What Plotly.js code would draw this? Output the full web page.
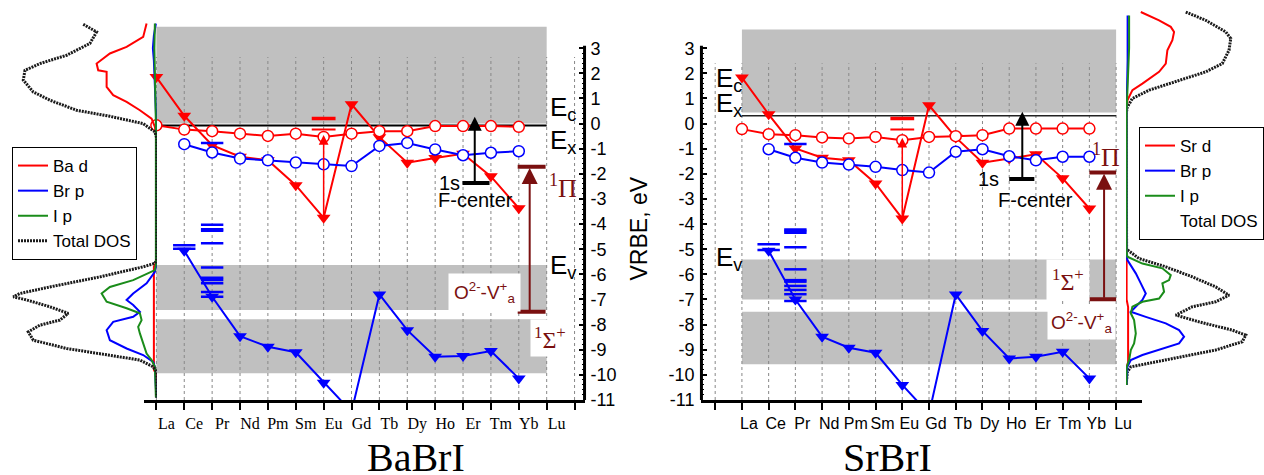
<!DOCTYPE html>
<html><head><meta charset="utf-8">
<script src="https://cdn.plot.ly/plotly-3.0.1.min.js"></script>
<style>html,body{margin:0;padding:0;background:#fff}#chart{width:1264px;height:475px}</style>
</head><body><div id="chart"></div>
<script>
// ---------------- DATA ----------------
const LN = ['La','Ce','Pr','Nd','Pm','Sm','Eu','Gd','Tb','Dy','Ho','Er','Tm','Yb','Lu'];
const yTicks = [-11,-10,-9,-8,-7,-6,-5,-4,-3,-2,-1,0,1,2,3];

// BaBrI (left) — La..Yb
const babriRedTri  = [1.85, 0.31, -0.86, -1.32, -1.46, -2.45, -3.75, 0.77, -0.54, -1.56, -1.37, -1.2, -2.1, -3.37];
const babriRedCirc = [-0.07, -0.24, -0.3, -0.4, -0.49, -0.4, -0.53, -0.4, -0.3, -0.3, -0.1, -0.1, -0.1, -0.13];
// Ce..Yb
const babriBlueCirc = [-0.82, -1.15, -1.39, -1.46, -1.55, -1.62, -1.69, -0.89, -0.77, -1.03, -1.26, -1.16, -1.1];
const babriBlueTri  = [-5.06, -6.89, -8.46, -8.88, -9.1, -10.31, -11.47, -6.8, -8.22, -9.28, -9.25, -9.05, -10.14];
const babriCeDash = [-4.84, -4.98];
const babriPrDash = [-0.77, -4.03, -4.2, -4.26, -4.76, -5.73, -6.13, -6.22, -6.35, -6.7, -6.89];
const babriEuDash = [0.2, -0.24];
const babriBands = [[0, 3.85], [-7.42, -5.63], [-9.94, -7.79]];
const babriEcLine = -0.08;
const babriF1s = -2.36, babriFtop = 0.27;
const babriPi = -1.72, babriSigma = -7.49;

// SrBrI (right) — La..Yb
const srbriRedTri  = [1.83, 0.37, -0.99, -1.36, -1.46, -2.38, -3.78, 0.73, -0.55, -1.56, -1.39, -1.22, -2.18, -3.38];
const srbriRedCirc = [-0.22, -0.42, -0.46, -0.55, -0.59, -0.53, -0.66, -0.53, -0.5, -0.46, -0.2, -0.2, -0.2, -0.2];
// Ce..Yb
const srbriBlueCirc = [-1.02, -1.36, -1.55, -1.63, -1.72, -1.85, -1.95, -1.12, -1.02, -1.3, -1.46, -1.32, -1.32];
const srbriBlueTri  = [-5.06, -7.0, -8.48, -8.92, -9.12, -10.4, -11.55, -6.8, -8.25, -9.35, -9.28, -9.08, -10.14];
const srbriCeDash = [-4.8, -5.03];
const srbriPrDash = [-0.81, -4.21, -4.27, -4.34, -4.92, -5.8, -6.23, -6.29, -6.46, -6.62, -6.79, -7.06];
const srbriEuDash = [0.2, -0.24];
const srbriBands = [[0.44, 3.74], [-7.0, -5.41], [-9.58, -7.49]];
const srbriExLine = 0.31;
const srbriF1s = -2.21, srbriFtop = 0.47;
const srbriPi = -1.95, srbriSigma = -6.99;

// DOS BaBrI (energy, eV ; DOS, arb.)
const babriTotE = [3.95, 3.65, 3.19, 2.72, 2.39, 2.12, 1.73, 1.26, 0.93, 0.53, 0.29, 0.0, -0.33, -0.6, -5.4, -5.56, -5.7, -6.1, -6.5, -6.76, -6.89, -7.02, -7.29, -7.55, -7.82, -8.02, -8.29, -8.62, -8.95, -9.21, -9.41, -9.68, -9.9, -10.9];
const babriTot  = [73.7, 60.3, 67, 90.3, 117, 132, 133.7, 123.7, 107, 80.3, 47, 13.7, 2, 0, 0, 2, 13.7, 57, 107, 137, 143.7, 130.3, 107, 88.7, 97, 117, 128.7, 123.7, 90.3, 50.3, 17, 3.7, 0, 0];
const babriBaE = [3.98, 3.45, 3.05, 2.79, 2.39, 2.12, 2.06, 1.46, 1.13, 0.86, 0.53, 0.2, -0.13, -0.5, -5.5, -5.7, -9.8, -10.0, -10.9];
const babriBa  = [10.3, 13.7, 30.3, 47, 60.3, 58.7, 50.3, 50.3, 43.7, 30.3, 17, 5.3, 2, 0.5, 0.5, 3, 3, 0.5, 0.5];
const babriBrE = [3.98, 3.5, 3.0, 2.5, 1.5, 0.5, 0.0, -5.6, -5.9, -6.36, -6.76, -7.02, -7.22, -7.49, -7.69, -7.89, -8.22, -8.62, -8.95, -9.21, -9.48, -9.68, -10.9];
const babriBr  = [1, 3, 4, 3, 2, 1, 0.5, 0.5, 2, 10.3, 23.7, 30.3, 23.7, 17, 23.7, 43.7, 50.3, 47, 30.3, 13.7, 3.7, 2, 0.5];
const babriIE = [3.98, 3.0, 2.0, 1.0, 0.0, -5.6, -5.83, -6.23, -6.5, -6.76, -7.09, -7.35, -7.55, -7.82, -8.09, -8.35, -8.75, -9.15, -9.41, -9.68, -10.9];
const babriI  = [2, 2.5, 2, 1.5, 1, 1, 2, 23.7, 47, 55.3, 50.3, 30.3, 17, 15.3, 18.7, 17, 13.7, 10.3, 5.3, 2, 1];

// DOS SrBrI
const srbriTotE = [4.44, 4.11, 3.65, 3.39, 2.92, 2.39, 2.06, 1.73, 1.33, 1.0, 0.66, 0.4, -4.8, -5.0, -5.37, -5.7, -6.1, -6.5, -6.83, -7.09, -7.29, -7.62, -7.89, -8.22, -8.42, -8.68, -9.01, -9.28, -9.54, -9.68, -9.88, -10.4];
const srbriTot  = [59.7, 79.7, 99.7, 104.7, 103, 96.3, 79.7, 53, 23, 6.3, 1.3, 0, 0, 0.5, 13, 39.7, 66.3, 89.7, 103, 89.7, 66.3, 49.7, 73, 106.3, 119.7, 116.3, 89.7, 56.3, 23, 4.7, 1.3, 0];
const srbriSrE = [4.44, 4.11, 3.85, 3.65, 3.32, 2.92, 2.39, 2.06, 1.59, 1.33, 0.93, 0.5, -7.0, -7.3, -9.5, -9.7, -10.4];
const srbriSr  = [14.7, 33, 44.7, 48, 46.3, 41.3, 39.7, 33, 16.3, 6.3, 1.3, 0.5, 0.5, 2, 2, 0.5, 0.5];
const srbriBrE = [4.3, 2.5, 0.5, -5.2, -5.43, -5.96, -6.36, -6.76, -7.02, -7.29, -7.49, -7.69, -7.95, -8.22, -8.48, -8.75, -9.01, -9.21, -9.41, -9.68, -10.4];
const srbriBr  = [1.5, 1.5, 0.5, 0.5, 1.3, 9.7, 14.7, 19.7, 16.3, 9.7, 4.7, 19.7, 39.7, 53, 58, 53, 33, 16.3, 4.7, 1.3, 0.5];
const srbriIE = [4.3, 3.0, 1.0, 0.5, -5.1, -5.3, -5.57, -5.76, -6.03, -6.23, -6.36, -6.69, -6.96, -7.09, -7.29, -7.55, -7.82, -8.35, -8.75, -9.01, -9.41, -9.7, -10.4];
const srbriI  = [3, 3, 1, 0.5, 0.5, 1.3, 16.3, 36.3, 44.7, 43, 36.3, 38, 33, 16.3, 6.3, 4.7, 8, 9.7, 8, 4.7, 3, 0.5, 0.5];

// ---------------- HELPERS ----------------
const W = 1264, T = 8, B = 400;
const px = p => p / W;
const py = p => (B - p) / (B - T);
const SANS = 'Liberation Sans, Arial, sans-serif';
const SERIF = 'Liberation Serif, Times New Roman, serif';
const RED = '#ff0000', BLUE = '#0000ff', GREEN = '#1a8c1a', BROWN = '#7a1010', GRAY = '#c0c0c0';
const TOT = {color: '#1a1a1a', width: 3, dash: '2px,1px'};
const idx = n => LN.indexOf(n);
const laYb = LN.slice(0, 14).map(idx);
const ceYb = LN.slice(1, 14).map(idx);
const rep = (n, arr) => arr.map(() => n);

function panelTraces(xa, ya, redTri, redCirc, blueCirc, blueTri, ceDash, prDash, euDash) {
  return [
    {x: ceYb, y: blueTri, xaxis: xa, yaxis: ya, mode: 'lines+markers', showlegend: false,
     line: {color: BLUE, width: 2}, marker: {symbol: 'triangle-down', size: 12, color: BLUE}},
    {x: laYb, y: redTri, xaxis: xa, yaxis: ya, mode: 'lines+markers', showlegend: false,
     line: {color: RED, width: 2}, marker: {symbol: 'triangle-down', size: 12, color: RED}},
    {x: ceYb, y: blueCirc, xaxis: xa, yaxis: ya, mode: 'lines+markers', showlegend: false,
     line: {color: BLUE, width: 2}, marker: {symbol: 'circle', size: 11, color: '#fff', line: {color: BLUE, width: 1.5}}},
    {x: laYb, y: redCirc, xaxis: xa, yaxis: ya, mode: 'lines+markers', showlegend: false,
     line: {color: RED, width: 2}, marker: {symbol: 'circle', size: 11, color: '#fff', line: {color: RED, width: 1.5}}},
    {x: rep(idx('Ce'), ceDash).concat(rep(idx('Pr'), prDash)), y: ceDash.concat(prDash), xaxis: xa, yaxis: ya,
     mode: 'markers', showlegend: false, marker: {symbol: 'line-ew', size: 16, line: {color: BLUE, width: 2.5}}},
    {x: rep(idx('Eu'), euDash), y: euDash, xaxis: xa, yaxis: ya, mode: 'markers', showlegend: false,
     marker: {symbol: 'line-ew', size: 17, line: {color: RED, width: [3.5, 2]}}}
  ];
}

const data = [].concat(
  panelTraces('x', 'y', babriRedTri, babriRedCirc, babriBlueCirc, babriBlueTri, babriCeDash, babriPrDash, babriEuDash),
  panelTraces('x2', 'y2', srbriRedTri, srbriRedCirc, srbriBlueCirc, srbriBlueTri, srbriCeDash, srbriPrDash, srbriEuDash),
  [
    // left DOS
    {x: babriBa, y: babriBaE, xaxis: 'x3', yaxis: 'y', mode: 'lines', name: 'Ba d', legend: 'legend', line: {color: RED, width: 2}},
    {x: babriBr, y: babriBrE, xaxis: 'x3', yaxis: 'y', mode: 'lines', name: 'Br p', legend: 'legend', line: {color: BLUE, width: 2}},
    {x: babriI, y: babriIE, xaxis: 'x3', yaxis: 'y', mode: 'lines', name: 'I p', legend: 'legend', line: {color: GREEN, width: 2}},
    {x: babriTot, y: babriTotE, xaxis: 'x3', yaxis: 'y', mode: 'lines', name: 'Total DOS', legend: 'legend', line: TOT},
    // right DOS
    {x: srbriTot, y: srbriTotE, xaxis: 'x4', yaxis: 'y', mode: 'lines', name: 'Total DOS', showlegend: false, line: TOT},
    {x: srbriSr, y: srbriSrE, xaxis: 'x4', yaxis: 'y', mode: 'lines', name: 'Sr d', legend: 'legend2', line: {color: RED, width: 2}},
    {x: srbriBr, y: srbriBrE, xaxis: 'x4', yaxis: 'y', mode: 'lines', name: 'Br p', legend: 'legend2', line: {color: BLUE, width: 2}},
    {x: srbriI, y: srbriIE, xaxis: 'x4', yaxis: 'y', mode: 'lines', name: 'I p', legend: 'legend2', line: {color: GREEN, width: 2}},
    {x: [null], y: [null], xaxis: 'x4', yaxis: 'y', mode: 'lines', name: 'Total DOS', legend: 'legend2', line: {color: 'rgba(0,0,0,0)', width: 2}}
  ]
);

// ---------------- SHAPES ----------------
const shapes = [];
function panelShapes(xr, yr, bands, gridTicks, gridTop) {
  bands.forEach(b => shapes.push({type: 'rect', xref: xr, yref: yr, x0: 0, x1: 14, y0: b[0], y1: b[1],
    fillcolor: GRAY, line: {width: 0}, layer: 'below'}));
  gridTicks.forEach(t => shapes.push({type: 'line', xref: xr, yref: yr, x0: t, x1: t, y0: -11, y1: gridTop,
    line: {color: '#888', width: 1, dash: 'dot'}, layer: 'below'}));
}
panelShapes('x', 'y', babriBands, [...Array(16).keys()], 2.65);
panelShapes('x2', 'y2', srbriBands, [...Array(16).keys()].map(i => i - 1), 2.4);

// Ec / Ex lines
shapes.push({type: 'line', xref: 'x', yref: 'y', x0: 0, x1: 14, y0: babriEcLine, y1: babriEcLine, line: {color: '#000', width: 2}, layer: 'below'});
shapes.push({type: 'line', xref: 'x2', yref: 'y2', x0: 0, x1: 14, y0: srbriExLine, y1: srbriExLine, line: {color: '#222', width: 1.5}, layer: 'below'});
// F-center bars
shapes.push({type: 'line', xref: 'x', yref: 'y', x0: 10.98, x1: 11.95, y0: babriF1s, y1: babriF1s, line: {color: '#000', width: 4}});
shapes.push({type: 'line', xref: 'x2', yref: 'y2', x0: 10.0, x1: 10.94, y0: srbriF1s, y1: srbriF1s, line: {color: '#000', width: 4}});
// O2- V+a bars
[babriPi, babriSigma].forEach(v => shapes.push({type: 'line', xref: 'x', yref: 'y', x0: 12.96, x1: 13.96, y0: v, y1: v, line: {color: BROWN, width: 4}}));
[srbriPi, srbriSigma].forEach(v => shapes.push({type: 'line', xref: 'x2', yref: 'y2', x0: 13.0, x1: 14.0, y0: v, y1: v, line: {color: BROWN, width: 4}}));
// y axis lines
shapes.push({type: 'line', xref: 'paper', yref: 'y', x0: px(585), x1: px(585), y0: -11, y1: 3.1, line: {color: '#000', width: 3}});
shapes.push({type: 'line', xref: 'paper', yref: 'y2', x0: px(702), x1: px(702), y0: -11, y1: 3.1, line: {color: '#000', width: 3}});

// ---------------- ANNOTATIONS ----------------
const ann = [];
function txt(xr, yr, x, y, text, o) {
  ann.push(Object.assign({xref: xr, yref: yr, x: x, y: y, text: text, showarrow: false, yanchor: 'middle',
    font: {family: SANS, size: 20, color: '#000'}}, o || {}));
}
function arrow(xr, yr, x, yFrom, yTo, color, width, size) {
  ann.push({xref: xr, yref: yr, axref: xr, ayref: yr, x: x, y: yTo, ax: x, ay: yFrom, text: '',
    showarrow: true, arrowhead: 2, arrowsize: size, arrowwidth: width, arrowcolor: color});
}
const EFONT = {family: SANS, size: 26, color: '#000'};
// left panel labels
txt('x', 'y', 14.05, 0.62, 'E<sub>c</sub>', {xanchor: 'left', font: EFONT});
txt('x', 'y', 14.05, -0.72, 'E<sub>x</sub>', {xanchor: 'left', font: EFONT});
txt('x', 'y', 14.05, -5.7, 'E<sub>v</sub>', {xanchor: 'left', font: EFONT});
txt('x', 'y', 10.95, babriF1s, '1s', {xanchor: 'right'});
txt('x', 'y', 11.45, -3.04, 'F-center');
txt('x', 'y', 14.0, -2.52, '<sup>1</sup>Π', {xanchor: 'left', font: {family: SERIF, size: 26, color: BROWN}});
txt('x', 'y', 11.77, -6.74, 'O<sup>2-</sup>-V<sup>+</sup><sub>a</sub>', {bgcolor: '#fff', borderpad: 5, font: {family: SANS, size: 19, color: BROWN}});
txt('x', 'y', 13.4, -8.53, '<sup>1</sup>Σ<sup>+</sup>', {xanchor: 'left', bgcolor: '#fff', borderpad: 3, font: {family: SERIF, size: 24, color: BROWN}});
arrow('x', 'y', idx('Eu'), babriRedTri[idx('Eu')], babriRedCirc[idx('Eu')] + 0.08, RED, 1.5, 1.3);
arrow('x', 'y', 11.42, babriF1s, babriFtop, '#000', 2, 1.4);
arrow('x', 'y', 13.39, babriSigma, babriPi - 0.05, BROWN, 2, 1.6);
// right panel labels
txt('x2', 'y2', -1.03, 1.75, 'E<sub>c</sub>', {xanchor: 'left', font: EFONT});
txt('x2', 'y2', -1.03, 0.76, 'E<sub>x</sub>', {xanchor: 'left', font: EFONT});
txt('x2', 'y2', -1.03, -5.38, 'E<sub>v</sub>', {xanchor: 'left', font: EFONT});
txt('x2', 'y2', 9.7, srbriF1s, '1s', {xanchor: 'right'});
txt('x2', 'y2', 11.0, -3.04, 'F-center');
txt('x2', 'y2', 13.62, -1.25, '<sup>1</sup>Π', {font: {family: SERIF, size: 26, color: BROWN}});
txt('x2', 'y2', 12.2, -6.22, '<sup>1</sup>Σ<sup>+</sup>', {bgcolor: '#fff', borderpad: 5, font: {family: SERIF, size: 24, color: BROWN}});
txt('x2', 'y2', 12.72, -7.93, 'O<sup>2-</sup>-V<sup>+</sup><sub>a</sub>', {bgcolor: '#fff', borderpad: 3, font: {family: SANS, size: 19, color: BROWN}});
arrow('x2', 'y2', idx('Eu'), srbriRedTri[idx('Eu')], srbriRedCirc[idx('Eu')] + 0.1, RED, 1.5, 1.3);
arrow('x2', 'y2', 10.49, srbriF1s, srbriFtop, '#000', 2, 1.4);
arrow('x2', 'y2', 13.55, srbriSigma, srbriPi - 0.05, BROWN, 2, 1.6);
// titles
txt('paper', 'paper', px(365), py(457), 'BaBrI', {font: {family: SERIF, size: 40, color: '#000'}});
txt('paper', 'paper', px(935), py(457), 'SrBrI', {font: {family: SERIF, size: 40, color: '#000'}});
txt('paper', 'paper', px(640), py(228), 'VRBE, eV', {textangle: -90, font: {family: SANS, size: 23, color: '#000'}});

// ---------------- LAYOUT ----------------
const minorVals = [];
for (let k = 0; k <= 70; k++) minorVals.push(-11 + k * 0.2);
const yCommon = {range: [-11, 4.6], tickmode: 'array', tickvals: yTicks, ticktext: yTicks.map(String),
  ticks: 'inside', ticklen: 6, tickwidth: 2, tickcolor: '#000', showline: false, showgrid: false, zeroline: false,
  tickfont: {family: SANS, size: 18, color: '#000'},
  minor: {tickmode: 'array', tickvals: minorVals, ticks: 'inside', ticklen: 3, tickwidth: 1, tickcolor: '#000', showgrid: false}};
const xCommon = {showline: true, linewidth: 3, linecolor: '#000', ticks: 'outside', ticklen: 7, tickwidth: 2,
  tickcolor: '#000', showgrid: false, zeroline: false, tickmode: 'array'};

const leftTickVals = [...Array(16).keys()];
const rightTickVals = leftTickVals.map(i => i - 1);

const layout = {
  width: 1264, height: 475, margin: {l: 0, r: 0, t: T, b: 475 - B},
  paper_bgcolor: '#fff', plot_bgcolor: 'rgba(0,0,0,0)', hovermode: false,
  xaxis: Object.assign({}, xCommon, {domain: [px(144), px(585)], range: [-0.448, 15.358], anchor: 'y',
    tickvals: leftTickVals, ticktext: LN.concat(['']), ticklabelshift: 10,
    tickfont: {family: SERIF, size: 16, color: '#000'}}),
  yaxis: Object.assign({}, yCommon, {anchor: 'x', side: 'right', ticklabelstandoff: 5}),
  xaxis2: Object.assign({}, xCommon, {domain: [px(702), px(1143)], range: [-1.514, 14.972], anchor: 'y2',
    tickvals: rightTickVals, ticktext: [''].concat(LN), ticklabelshift: 7,
    tickfont: {family: SANS, size: 16, color: '#000'}}),
  yaxis2: Object.assign({}, yCommon, {anchor: 'x2', side: 'left', ticklabelstandoff: 6}),
  xaxis3: {domain: [0, px(157)], range: [157, 0], anchor: 'y', visible: false, showgrid: false, zeroline: false},
  xaxis4: {domain: [px(1127), 1], range: [0, 137], anchor: 'y', visible: false, showgrid: false, zeroline: false},
  legend: {x: px(12), y: py(147), xanchor: 'left', yanchor: 'top', bgcolor: '#fff', bordercolor: '#000', borderwidth: 1,
    font: {family: SANS, size: 17, color: '#000'}, tracegroupgap: 0},
  legend2: {x: px(1140), y: py(127), xanchor: 'left', yanchor: 'top', bgcolor: '#fff', bordercolor: '#000', borderwidth: 1,
    font: {family: SANS, size: 17, color: '#000'}, tracegroupgap: 0},
  shapes: shapes,
  annotations: ann
};

Plotly.newPlot('chart', data, layout, {staticPlot: true, displayModeBar: false});
</script>
</body></html>
